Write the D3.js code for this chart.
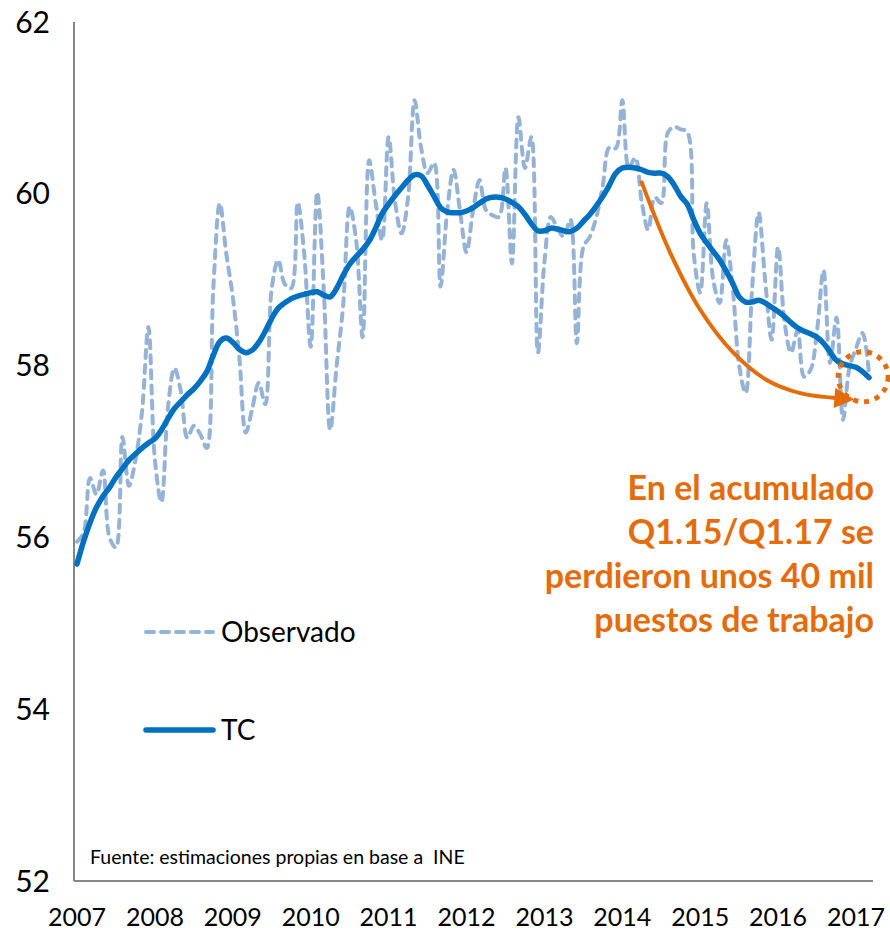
<!DOCTYPE html>
<html>
<head>
<meta charset="utf-8">
<script src="https://cdnjs.cloudflare.com/ajax/libs/d3/7.8.5/d3.min.js"></script>
<style>
  body { margin: 0; background: #fff; }
  text { font-family: Lato, "Open Sans", sans-serif; }
</style>
</head>
<body>
<div id="chart"></div>
<script>
let w = 890;
let h = 932;

// monthly, Jan 2007 .. Mar 2017
let observado = [
  55.95, 56.05, 56.69, 56.50, 56.78, 56.00, 55.88, 57.17, 56.60, 56.90, 57.45, 58.45,
  56.90, 56.41, 57.50, 57.97, 57.70, 57.16, 57.30, 57.20, 57.04, 58.90, 59.89, 59.30,
  58.80, 58.10, 57.22, 57.50, 57.80, 57.55, 58.90, 59.23, 58.95, 58.90, 59.90, 59.30,
  58.22, 60.02, 58.90, 57.25, 58.00, 58.70, 59.85, 59.46, 58.33, 60.39, 59.90, 59.46,
  60.66, 59.90, 59.54, 59.96, 61.09, 60.54, 60.24, 60.36, 58.92, 59.78, 60.28, 59.80,
  59.32, 59.80, 60.16, 59.81, 59.75, 59.73, 60.30, 59.19, 60.89, 60.30, 60.66, 58.15,
  59.20, 59.73, 59.60, 59.50, 59.70, 58.26, 59.38, 59.50, 59.73, 60.10, 60.54, 60.53,
  61.09, 60.30, 60.42, 59.90, 59.58, 59.96, 59.89, 60.71, 60.78, 60.75, 60.72, 59.30,
  58.85, 59.89, 59.00, 58.73, 59.46, 58.91, 58.00, 57.68, 58.90, 59.78, 59.00, 58.30,
  59.38, 58.50, 58.15, 58.41, 57.87, 57.95, 58.41, 59.11, 58.03, 58.56, 57.37, 57.98,
  58.20, 58.38, 57.91
];
let tc = [
  55.69, 55.95, 56.17, 56.35, 56.48, 56.58, 56.70, 56.80, 56.90, 56.97, 57.04, 57.10,
  57.15, 57.25, 57.38, 57.50, 57.58, 57.66, 57.73, 57.82, 57.93, 58.12, 58.28, 58.32,
  58.27, 58.19, 58.15, 58.18, 58.27, 58.40, 58.55, 58.67, 58.73, 58.78, 58.81, 58.83,
  58.85, 58.86, 58.82, 58.80, 58.90, 59.05, 59.18, 59.27, 59.35, 59.45, 59.60, 59.77,
  59.88, 59.98, 60.07, 60.16, 60.22, 60.21, 60.10, 59.97, 59.84, 59.79, 59.78, 59.78,
  59.80, 59.84, 59.89, 59.94, 59.96, 59.96, 59.94, 59.90, 59.85, 59.76, 59.65, 59.57,
  59.57, 59.60, 59.59, 59.57, 59.56, 59.60, 59.68, 59.76, 59.86, 59.97, 60.10, 60.24,
  60.30, 60.31, 60.30, 60.28, 60.25, 60.24, 60.24, 60.20, 60.10, 59.97, 59.88, 59.70,
  59.54, 59.43, 59.33, 59.23, 59.10, 58.96, 58.80, 58.74, 58.74, 58.76, 58.73, 58.68,
  58.63, 58.57, 58.50, 58.44, 58.40, 58.37, 58.33, 58.26, 58.16, 58.06, 58.02, 58.00,
  57.98, 57.93, 57.86
];
let years = ['2007', '2008', '2009', '2010', '2011', '2012', '2013', '2014', '2015', '2016', '2017'];
let yTicks = [52, 54, 56, 58, 60, 62];

// arrow path (month index, value) and circle centre
let arrowPts = [[86.9, 60.15], [91.4, 59.31], [96, 58.65], [101.1, 58.15], [106.3, 57.83], [111.4, 57.68], [117.3, 57.62]];
let circleAt = [121.1, 57.87];

let noteLines = ['En el acumulado', 'Q1.15/Q1.17 se', 'perdieron unos 40 mil', 'puestos de trabajo'];
let source = 'Fuente: estimaciones propias en base a  INE';

let svg = d3.select('#chart').
append('svg').
attr('width', w).
attr('height', h);

let x = d3.scaleLinear().domain([0, 120]).range([77, 856]);
let y = d3.scaleLinear().domain([52, 62]).range([881, 22]);

let orange = '#E46C0A';

svg.append('defs').append('marker').
attr('id', 'head').
attr('viewBox', '0 0 10 10').
attr('refX', 2).
attr('refY', 5).
attr('markerWidth', 5.5).
attr('markerHeight', 5).
attr('markerUnits', 'strokeWidth').
attr('orient', 'auto').
append('path').
attr('d', 'M0,0 L10,5 L0,10 Z').
attr('fill', orange);

// axes lines
svg.append('line').
attr('x1', 74).attr('x2', 74).
attr('y1', y(62)).attr('y2', y(52)).
attr('stroke', '#868686').attr('stroke-width', 2);
svg.append('line').
attr('x1', 74).attr('x2', 873).
attr('y1', y(52)).attr('y2', y(52)).
attr('stroke', '#868686').attr('stroke-width', 2);

svg.selectAll('.ylab').
data(yTicks).
join('text').
attr('class', 'ylab').
attr('x', 50).
attr('y', d => y(d)).
attr('dy', '0.35em').
attr('text-anchor', 'end').
style('font-size', '30px').
text(d => d);

svg.selectAll('.xlab').
data(years).
join('text').
attr('class', 'xlab').
attr('x', (d, i) => x(i * 12)).
attr('y', 926).
attr('text-anchor', 'middle').
style('font-size', '25px').
text(d => d);

let line = d3.line().
x((d, i) => x(i)).
y(d => y(d)).
curve(d3.curveCatmullRom);

svg.append('path').
datum(observado).
attr('d', line).
attr('fill', 'none').
attr('stroke', '#95B3D7').
attr('stroke-width', 4).
attr('stroke-linecap', 'round').
attr('stroke-dasharray', '8,7');

svg.append('path').
datum(tc).
attr('d', line).
attr('fill', 'none').
attr('stroke', '#0070C0').
attr('stroke-width', 5.5).
attr('stroke-linecap', 'round');

// annotation arrow + circle
svg.append('path').
datum(arrowPts).
attr('d', d3.line().x(d => x(d[0])).y(d => y(d[1])).curve(d3.curveCatmullRom)).
attr('fill', 'none').
attr('stroke', orange).
attr('stroke-width', 4).
attr('marker-end', 'url(#head)');

svg.append('circle').
attr('cx', x(circleAt[0])).
attr('cy', y(circleAt[1])).
attr('r', 25).
attr('fill', 'none').
attr('stroke', orange).
attr('stroke-width', 5).
attr('stroke-dasharray', '5,6');

svg.append('g').
selectAll('text').
data(noteLines).
join('text').
attr('x', 874).
attr('y', (d, i) => 500 + i * 44).
attr('text-anchor', 'end').
attr('fill', orange).
style('font-size', '34px').
style('font-weight', 'bold').
text(d => d);

// legend
let legendItems = [
  { name: 'Observado', color: '#95B3D7', width: 4, dash: '8,7', cy: 632 },
  { name: 'TC', color: '#0070C0', width: 5.5, dash: null, cy: 730 }
];
let lg = svg.selectAll('.lg').
data(legendItems).
join('g').
attr('class', 'lg');
lg.append('line').
attr('x1', 146).attr('x2', 213).
attr('y1', d => d.cy).attr('y2', d => d.cy).
attr('stroke', d => d.color).
attr('stroke-width', d => d.width).
attr('stroke-linecap', 'round').
attr('stroke-dasharray', d => d.dash);
lg.append('text').
attr('x', 221).
attr('y', d => d.cy).
attr('dy', '0.35em').
style('font-size', '28px').
text(d => d.name);

svg.append('text').
attr('x', 90).
attr('y', 864).
style('font-size', '19.5px').
style('white-space', 'pre').
text(source);
</script>
</body>
</html>
